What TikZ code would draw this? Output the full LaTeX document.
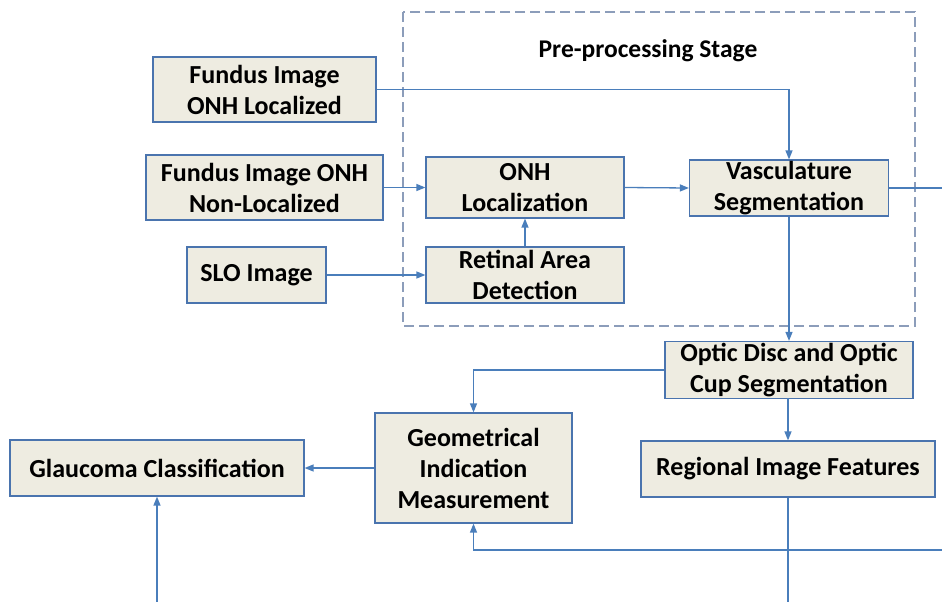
\documentclass[tikz,border=0pt]{standalone}
\usepackage{fontspec}
\setmainfont{Carlito}
\usetikzlibrary{arrows.meta}
\definecolor{boxfill}{HTML}{EEECE1}
\definecolor{boxline}{HTML}{4A74AE}
\definecolor{linecol}{HTML}{4A7EBB}
\definecolor{dashcol}{HTML}{8C9DBA}
\begin{document}
\begin{tikzpicture}[x=1pt,y=-1pt,
  blk/.style={draw=boxline, fill=boxfill, line width=1.2pt,
    font=\bfseries\fontsize{26}{31}\selectfont, align=center, inner sep=0pt},
  wire/.style={draw=linecol, line width=1.3pt},
  conn/.style={wire, -{Triangle[length=9pt,width=7pt]}}]
\useasboundingbox (0,0) rectangle (942,602);
% pre-processing frame
\draw[dashcol, line width=2.8pt, dash pattern=on 10pt off 5pt] (403,12) rectangle (915,326);
\node[font=\bfseries\fontsize{25.5}{30}\selectfont] (title) at (648,51) {Pre-processing Stage};
% boxes
\node[blk, minimum width=223pt, minimum height=65pt] (fl) at (264.5,89.5) {Fundus Image\\ONH Localized};
\node[blk, minimum width=237pt, minimum height=65pt] (fn) at (264.5,187.5) {Fundus Image ONH\\Non-Localized};
\node[blk, minimum width=139pt, minimum height=56pt] (slo) at (256.5,275) {SLO Image};
\node[blk, minimum width=198pt, minimum height=61pt] (onh) at (525,187.5) {ONH\\Localization};
\node[blk, minimum width=198pt, minimum height=56pt] (ra) at (525,275) {Retinal Area\\Detection};
\node[blk, minimum width=199pt, minimum height=56pt] (vs) at (789,188) {Vasculature\\Segmentation};
\node[blk, minimum width=248pt, minimum height=57pt] (od) at (789,370) {Optic Disc and Optic\\Cup Segmentation};
\node[blk, minimum width=197pt, minimum height=110pt] (gm) at (473.5,468) {Geometrical\\Indication\\Measurement};
\node[blk, minimum width=294pt, minimum height=56pt] (gc) at (157,468) {Glaucoma Classification};
\node[blk, minimum width=294pt, minimum height=56pt] (rf) at (788,469) {Regional Image Features};
% free ends
\coordinate (r1) at (942,188);
\coordinate (r2) at (942,550);
\coordinate (b1) at (157,602);
\coordinate (b2) at (788,602);
% connectors
\draw[conn] (fl.east) -| (vs.north);
\draw[conn] (fn.east) -- (onh.west);
\draw[conn] (slo.east) -- (ra.west);
\draw[conn] (ra.north) -- (onh.south);
\draw[conn] (onh.east) -- (vs.west);
\draw[wire] (vs.east) -- (r1);
\draw[conn] (vs.south) -- (od.north);
\draw[conn] (od.west) -| (gm.north);
\draw[conn] (od.south) -- (rf.south |- od.south) -- (rf.north);
\draw[conn] (gm.west) -- (gc.east);
\draw[conn] (b1) -- (gc.south);
\draw[wire] (rf.south) -- (b2);
\draw[conn] (r2) -| (gm.south);
\end{tikzpicture}
\end{document}
